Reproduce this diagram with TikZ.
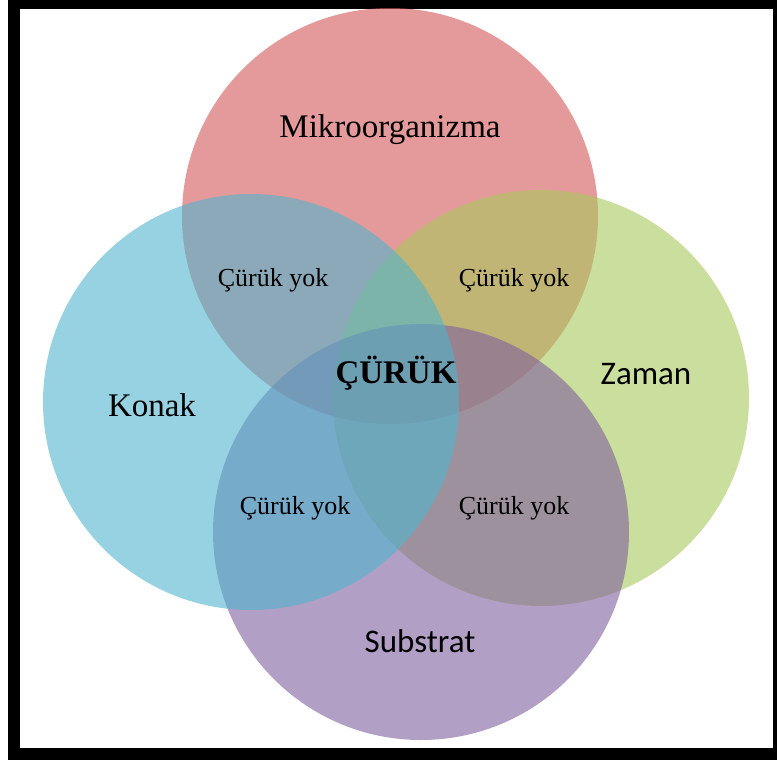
\documentclass[tikz,border=0pt]{standalone}
\usepackage{fontspec}
\setmainfont{Liberation Serif}
\newfontfamily\calib{Carlito}
\definecolor{cred}{RGB}{210,88,88}
\definecolor{cblue}{RGB}{80,180,205}
\definecolor{cgreen}{RGB}{168,200,93}
\definecolor{cpurple}{RGB}{128,95,160}
\tikzset{
  venn/.style={circle, minimum size=416pt, inner sep=0pt, fill opacity=0.6, draw=none},
  serlab/.style={font=\fontsize{33}{40}\selectfont, inner sep=0pt},
  sanlab/.style={font=\calib\fontsize{33}{40}\selectfont, inner sep=0pt},
  smalllab/.style={font=\fontsize{26}{32}\selectfont, inner sep=0pt},
  boldlab/.style={font=\bfseries\fontsize{33}{40}\selectfont, inner sep=0pt}
}
\begin{document}
\begin{tikzpicture}[x=1pt,y=-1pt]
\useasboundingbox (0,0) rectangle (777,763);
\fill[black] (8,0) rectangle (777,760);
\fill[white] (20,9) rectangle (773,748);
\node[venn, fill=cred] (red) at (390,216) {};
\node[venn, fill=cgreen] (green) at (541,398) {};
\node[venn, fill=cpurple] (purple) at (421,532) {};
\node[venn, fill=cblue] (blue) at (251,402) {};
\node[serlab] (mik) at (390,130) {Mikroorganizma};
\node[serlab] (konak) at (152,405) {Konak};
\node[sanlab] (zaman) at (646,374) {Zaman};
\node[sanlab] (sub) at (420,641) {Substrat};
\node[boldlab] (cur) at (396,373) {ÇÜRÜK};
\node[smalllab] (y1) at (273,280) {Çürük yok};
\node[smalllab] (y2) at (514,280) {Çürük yok};
\node[smalllab] (y3) at (295,508) {Çürük yok};
\node[smalllab] (y4) at (514,508) {Çürük yok};
\end{tikzpicture}
\end{document}
